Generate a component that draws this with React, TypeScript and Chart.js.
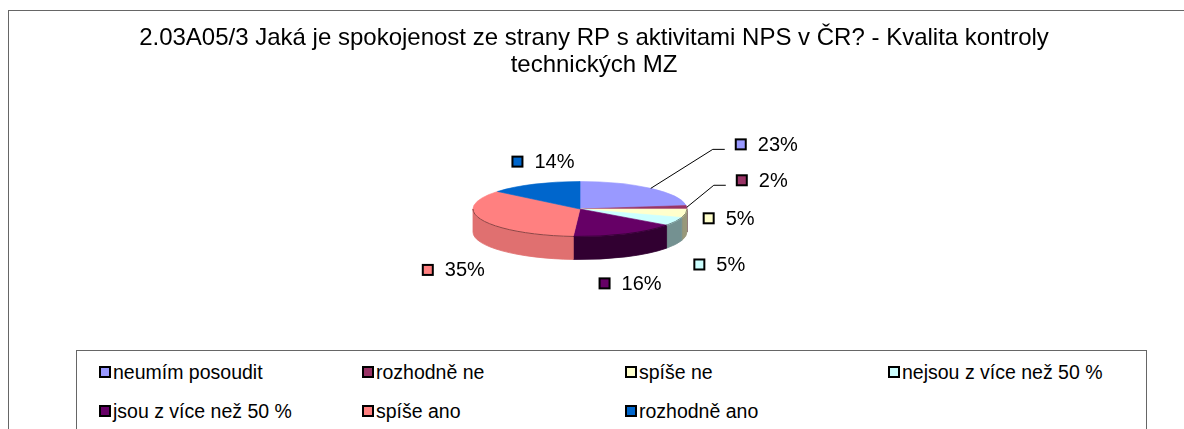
import React, { useEffect, useRef } from "react";
import { Chart, registerables } from "chart.js";

Chart.register(...registerables);

const titleLines = [
  "2.03A05/3 Jaká je spokojenost ze strany RP s aktivitami NPS v ČR? - Kvalita kontroly",
  "technických MZ",
];
const categories = [
  "neumím posoudit",
  "rozhodně ne",
  "spíše ne",
  "nejsou z více než 50 %",
  "jsou z více než 50 %",
  "spíše ano",
  "rozhodně ano",
];
const shares = [23, 2, 5, 5, 16, 35, 14];
const colors = ["#9999FF", "#993366", "#FFFFCC", "#CCFFFF", "#660066", "#FF8080", "#0066CC"];

// label placement (offset of label box left/middle from slice edge point), Excel-like manual layout
const labelNudges: [number, number][] = [
  [84, -44],
  [49, -27],
  [17, -18],
  [18, 20],
  [-27, 26.5],
  [-60, 27],
  [-23, -22.5],
];
const labelLeaders = [true, true, false, false, false, false, false];

const FONT = "'Liberation Sans', Arial, sans-serif";

function shade(hex: string, f: number): string {
  const h = hex.replace("#", "");
  const r = Math.round(parseInt(h.slice(0, 2), 16) * f);
  const g = Math.round(parseInt(h.slice(2, 4), 16) * f);
  const b = Math.round(parseInt(h.slice(4, 6), 16) * f);
  return `rgb(${Math.min(255, r)},${Math.min(255, g)},${Math.min(255, b)})`;
}

function sideFactor(mid: number): number {
  const c = Math.cos(mid);
  return c < 0 ? 0.55 + 0.45 * -c : 0.45 + 0.15 * c * c;
}

const pie3d = {
  id: "pie3d",
  beforeDatasetsDraw(chart: any, _args: any, opts: any) {
    const arcs = chart.getDatasetMeta(0).data as any[];
    if (!arcs.length) return;
    const ctx = chart.ctx as CanvasRenderingContext2D;
    const x = arcs[0].x, y = arcs[0].y, rx = arcs[0].outerRadius;
    const cx = x + opts.shiftX, cy = y;
    const ry = rx * opts.tilt, d = opts.depth;
    ctx.save();
    arcs.forEach((arc: any) => {
      const s = Math.max(arc.startAngle, 0);
      const e = Math.min(arc.endAngle, Math.PI);
      if (e <= s) return;
      const color = arc.options.backgroundColor as string;
      const fill = shade(color, sideFactor((s + e) / 2));
      ctx.beginPath();
      ctx.ellipse(cx, cy, rx, ry, 0, s, e);
      ctx.ellipse(cx, cy + d, rx, ry, 0, e, s, true);
      ctx.closePath();
      ctx.fillStyle = fill;
      ctx.fill();
      ctx.strokeStyle = fill;
      ctx.lineWidth = 0.8;
      ctx.stroke();
    });
    ctx.restore();
    ctx.save();
    ctx.translate(cx, cy);
    ctx.scale(1, opts.tilt);
    ctx.translate(-x, -y);
  },
  afterDatasetsDraw(chart: any, _args: any, opts: any) {
    const ctx = chart.ctx as CanvasRenderingContext2D;
    ctx.restore();
    const arcs = chart.getDatasetMeta(0).data as any[];
    if (!arcs.length) return;
    const x = arcs[0].x, y = arcs[0].y, rx = arcs[0].outerRadius;
    const cx = x + opts.shiftX, cy = y;
    const ry = rx * opts.tilt, d = opts.depth;
    const values = chart.data.datasets[0].data as number[];
    const total = values.reduce((a, b) => a + b, 0);
    ctx.save();
    // front rim line of the top face
    arcs.forEach((arc: any) => {
      const s = Math.max(arc.startAngle, 0);
      const e = Math.min(arc.endAngle, Math.PI);
      if (e <= s) return;
      ctx.beginPath();
      ctx.ellipse(cx, cy, rx, ry, 0, s, e);
      ctx.strokeStyle = shade(arc.options.backgroundColor, 0.55);
      ctx.lineWidth = 1;
      ctx.stroke();
    });
    // labels
    ctx.font = `20px ${FONT}`;
    ctx.textBaseline = "middle";
    ctx.textAlign = "left";
    arcs.forEach((arc: any, i: number) => {
      const m = (arc.startAngle + arc.endAngle) / 2;
      const ex = cx + rx * Math.cos(m);
      const ey = cy + ry * Math.sin(m) + (Math.sin(m) > 0 ? d : 0);
      const nudge = opts.nudges[i] || [0, 0];
      const left = ex + nudge[0];
      const my = ey + nudge[1];
      if (opts.leaders[i]) {
        ctx.beginPath();
        ctx.moveTo(ex, ey);
        ctx.lineTo(left - 22, my + 5);
        ctx.lineTo(left - 10, my + 5);
        ctx.strokeStyle = "#000";
        ctx.lineWidth = 1;
        ctx.stroke();
      }
      ctx.fillStyle = "#000";
      ctx.fillRect(left, my - 6, 12, 12);
      ctx.fillStyle = arc.options.backgroundColor;
      ctx.fillRect(left + 2, my - 4, 8, 8);
      ctx.fillStyle = "#000";
      ctx.fillText(`${Math.round((values[i] / total) * 100)}%`, left + 23, my + 1);
    });
    ctx.restore();
  },
};

export default function App() {
  const ref = useRef<HTMLCanvasElement>(null);

  useEffect(() => {
    if (!ref.current) return;
    const chart = new Chart(ref.current, {
      type: "pie",
      data: {
        labels: categories,
        datasets: [
          {
            data: shares,
            backgroundColor: colors,
            borderColor: colors,
            borderWidth: 1,
            clip: false as any,
          } as any,
        ],
      },
      options: {
        responsive: false,
        animation: false,
        devicePixelRatio: 1,
        events: [],
        radius: 107,
        layout: { padding: { top: 15, bottom: 99.5, left: 4, right: 0 } },
        plugins: {
          legend: { display: false },
          tooltip: { enabled: false },
          title: {
            display: true,
            text: titleLines,
            color: "#000",
            font: { family: FONT, size: 24, weight: "normal", lineHeight: 1.125 },
            padding: { top: 9.5, bottom: 10 },
          },
          pie3d: { shiftX: -14, tilt: 0.257, depth: 23, nudges: labelNudges, leaders: labelLeaders },
        } as any,
      } as any,
      plugins: [pie3d as any],
    });
    return () => chart.destroy();
  }, []);

  return (
    <div style={{ position: "absolute", left: 0, top: 0, width: 1184, height: 429, overflow: "hidden", background: "#fff" }}>
      <div
        style={{
          position: "absolute",
          left: 8,
          top: 10,
          width: 1300,
          height: 600,
          border: "1px solid #666",
        }}
      />
      <canvas ref={ref} width={1184} height={429} style={{ position: "absolute", left: 0, top: 0, width: 1184, height: 429 }} />
      <div
        style={{
          position: "absolute",
          left: 76,
          top: 350,
          width: 1047,
          height: 120,
          border: "1px solid #666",
          background: "#fff",
          boxSizing: "content-box",
          paddingTop: 1.5,
          paddingLeft: 22,
          display: "grid",
          gridTemplateColumns: "repeat(4, 263px)",
          gridAutoRows: "39px",
          alignContent: "start",
          fontFamily: FONT,
          fontSize: 19.5,
          color: "#000",
        }}
      >
        {categories.map((c, i) => (
          <div key={c} style={{ display: "flex", alignItems: "center", whiteSpace: "nowrap" }}>
            <span
              style={{
                display: "inline-block",
                width: 12,
                height: 12,
                boxSizing: "border-box",
                border: "2px solid #000",
                background: colors[i],
                marginRight: 2,
                flex: "none",
              }}
            />
            <span>{c}</span>
          </div>
        ))}
      </div>
    </div>
  );
}
